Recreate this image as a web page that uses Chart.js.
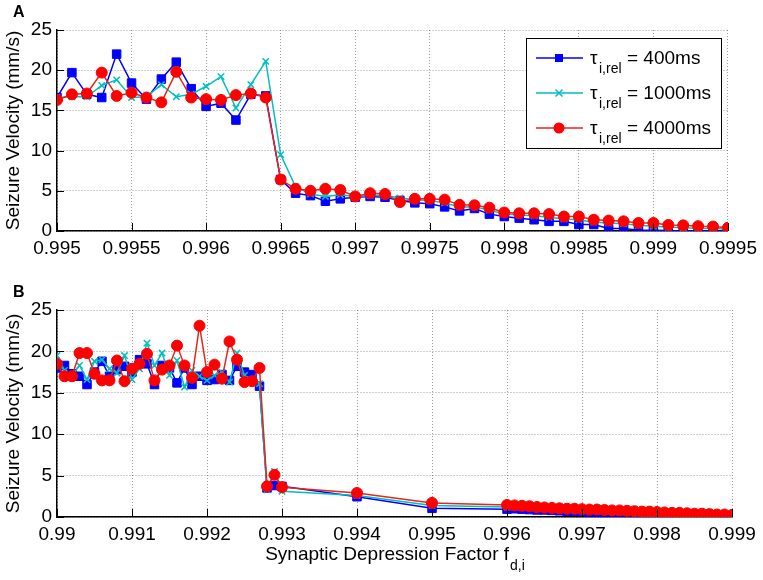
<!DOCTYPE html>
<html>
<head>
<meta charset="utf-8">
<script src="https://cdn.jsdelivr.net/npm/chart.js@4.4.0/dist/chart.umd.min.js"></script>
<style>
  html, body { margin: 0; padding: 0; background: #fff; }
  #wrap { position: relative; width: 763px; height: 580px; }
  canvas { position: absolute; left: 0; }
  #chartA { top: 0; }
  #chartB { top: 280px; }
</style>
</head>
<body>
<div id="wrap">
  <canvas id="chartA" width="763" height="280"></canvas>
  <canvas id="chartB" width="763" height="300"></canvas>
</div>
<script>
// series labels (tau_i,rel)
const seriesLabels = ['400ms', '1000ms', '4000ms'];
const yTicks = [0, 5, 10, 15, 20, 25];

// panel A
const xTicksA = [0.995, 0.9955, 0.996, 0.9965, 0.997, 0.9975, 0.998, 0.9985, 0.999, 0.9995];
const xA = [0.995, 0.9951, 0.9952, 0.9953, 0.9954, 0.9955, 0.9956, 0.9957, 0.9958, 0.9959,
            0.996, 0.9961, 0.9962, 0.9963, 0.9964, 0.9965, 0.9966, 0.9967, 0.9968, 0.9969,
            0.997, 0.9971, 0.9972, 0.9973, 0.9974, 0.9975, 0.9976, 0.9977, 0.9978, 0.9979,
            0.998, 0.9981, 0.9982, 0.9983, 0.9984, 0.9985, 0.9986, 0.9987, 0.9988, 0.9989,
            0.999, 0.9991, 0.9992, 0.9993, 0.9994, 0.9995];
const blueA = [16.6, 19.7, 17.0, 16.6, 22.0, 18.4, 16.4, 18.9, 21.0, 17.7,
               15.5, 15.9, 13.8, 17.0, 16.8, 6.4, 4.7, 4.4, 3.7, 4.0,
               4.2, 4.3, 4.2, 3.8, 3.5, 3.4, 3.0, 2.5, 2.8, 2.1,
               1.8, 1.6, 1.4, 1.2, 1.2, 0.8, 0.8, 0.3, 0.3, 0.1,
               0.1, 0.05, 0.0, 0.0, 0.0, 0.0];
const cyanA = [16.6, 16.7, 16.7, 18.1, 18.8, 16.6, 16.7, 18.2, 16.7, 17.0,
               18.0, 19.2, 15.3, 18.2, 21.1, 9.5, 5.5, 4.6, 4.3, 4.5,
               4.3, 4.4, 4.4, 4.1, 3.9, 3.8, 3.5, 3.0, 3.0, 2.6,
               2.1, 2.0, 1.9, 1.7, 1.5, 1.4, 1.1, 1.0, 0.9, 0.7,
               0.6, 0.5, 0.4, 0.35, 0.3, 0.25];
const redA = [16.3, 17.0, 17.1, 19.7, 16.8, 17.2, 16.6, 16.0, 19.8, 16.6,
              16.4, 16.3, 16.9, 17.1, 16.6, 6.4, 5.25, 5.0, 5.25, 5.1,
              4.3, 4.7, 4.6, 3.6, 4.0, 4.0, 3.9, 3.25, 3.2, 2.9,
              2.3, 2.2, 2.2, 2.1, 1.8, 1.8, 1.4, 1.3, 1.2, 1.0,
              1.0, 0.75, 0.7, 0.6, 0.55, 0.4];

// panel B
const xTicksB = [0.99, 0.991, 0.992, 0.993, 0.994, 0.995, 0.996, 0.997, 0.998, 0.999];
const xB = [0.99, 0.9901, 0.9902, 0.9903, 0.9904, 0.9905, 0.9906, 0.9907, 0.9908, 0.9909,
            0.991, 0.9911, 0.9912, 0.9913, 0.9914, 0.9915, 0.9916, 0.9917, 0.9918, 0.9919,
            0.992, 0.9921, 0.9922, 0.9923, 0.9924, 0.9925, 0.9926, 0.9927, 0.9928, 0.9929,
            0.993, 0.994, 0.995, 0.996,
            0.9961, 0.9962, 0.9963, 0.9964, 0.9965, 0.9966, 0.9967, 0.9968, 0.9969, 0.997,
            0.9971, 0.9972, 0.9973, 0.9974, 0.9975, 0.9976, 0.9977, 0.9978, 0.9979, 0.998,
            0.9981, 0.9982, 0.9983, 0.9984, 0.9985, 0.9986, 0.9987, 0.9988, 0.9989, 0.999];
const blueB = [18.0, 18.3, 17.3, 17.0, 16.0, 17.5, 18.8, 17.0, 17.8, 18.2,
               17.5, 19.0, 18.5, 16.0, 18.3, 18.0, 16.2, 18.0, 16.0, 17.0,
               16.5, 16.6, 17.2, 16.5, 18.2, 17.5, 17.2, 15.8, 3.5, 3.8,
               3.7, 2.45, 1.05, 0.95,
               1.0, 0.95, 0.9, 0.85, 0.85, 0.8, 0.75, 0.7, 0.7, 0.65,
               0.6, 0.55, 0.5, 0.5, 0.45, 0.4, 0.35, 0.3, 0.3, 0.25,
               0.2, 0.2, 0.15, 0.1, 0.1, 0.05, 0.05, 0.0, 0.0, 0.0];
const cyanB = [19.5, 17.7, 17.1, 18.3, 16.6, 18.8, 19.0, 17.9, 17.4, 19.5,
               16.6, 17.9, 21.0, 18.3, 19.8, 17.1, 18.9, 15.7, 17.7, 17.0,
               16.5, 17.1, 17.5, 16.3, 19.8, 17.1, 16.6, 16.1, 3.3, 5.5,
               3.1, 2.6, 1.4, 1.2,
               1.2, 1.15, 1.1, 1.05, 1.0, 0.95, 0.9, 0.9, 0.85, 0.8,
               0.75, 0.7, 0.65, 0.65, 0.6, 0.55, 0.5, 0.45, 0.45, 0.4,
               0.35, 0.35, 0.3, 0.25, 0.25, 0.2, 0.15, 0.15, 0.1, 0.1];
const redB = [18.5, 17.0, 17.0, 19.8, 19.8, 17.3, 16.5, 16.5, 18.9, 16.4,
              17.9, 18.5, 19.7, 16.5, 17.8, 18.3, 20.7, 18.3, 16.8, 23.1,
              17.5, 18.4, 16.7, 21.2, 19.0, 16.3, 16.4, 18.0, 3.7, 5.1,
              3.6, 2.9, 1.7, 1.45,
              1.4, 1.35, 1.3, 1.2, 1.15, 1.1, 1.05, 1.0, 1.0, 0.95,
              0.9, 0.9, 0.85, 0.8, 0.8, 0.75, 0.7, 0.65, 0.65, 0.6,
              0.55, 0.5, 0.5, 0.45, 0.4, 0.4, 0.35, 0.3, 0.3, 0.25];

const FONT = '"Liberation Sans", Arial, sans-serif';
const BLUE = '#0000ff';
const CYAN = 'rgb(0,191,191)';
const RED = '#ff0000';
const RED_LINE = '#e6261a';
const GRID = 'rgba(0,0,0,0.38)';

function toPoints(xs, ys) {
    return xs.map((x, i) => ({ x: x, y: ys[i] }));
}

function makeDatasets(xs, b, c, r) {
    return [
        {
            label: seriesLabels[0], data: toPoints(xs, b), order: 2,
            borderColor: BLUE, borderWidth: 1.5, pointStyle: 'rect', pointRadius: 6,
            pointBackgroundColor: BLUE, pointBorderColor: BLUE, pointBorderWidth: 1
        },
        {
            label: seriesLabels[1], data: toPoints(xs, c), order: 1,
            borderColor: CYAN, borderWidth: 1.5, pointStyle: 'crossRot', pointRadius: 4.5,
            pointBackgroundColor: CYAN, pointBorderColor: CYAN, pointBorderWidth: 1.5
        },
        {
            label: seriesLabels[2], data: toPoints(xs, r), order: 0,
            borderColor: RED_LINE, borderWidth: 1.5, pointStyle: 'circle', pointRadius: 5.5,
            pointBackgroundColor: RED, pointBorderColor: RED, pointBorderWidth: 1
        }
    ];
}

// inward tick marks + panel letter
const axesExtras = {
    id: 'axesExtras',
    afterDraw(chart, args, opts) {
        const ctx = chart.ctx;
        const a = chart.chartArea;
        const xs = chart.scales.x, ys = chart.scales.y;
        ctx.save();
        ctx.strokeStyle = '#000';
        ctx.lineWidth = 1;
        ctx.beginPath();
        xs.ticks.forEach(t => {
            const px = Math.round(xs.getPixelForValue(t.value)) + 0.5;
            ctx.moveTo(px, a.bottom);
            ctx.lineTo(px, a.bottom - 8);
        });
        ys.ticks.forEach(t => {
            const py = Math.round(ys.getPixelForValue(t.value)) + 0.5;
            ctx.moveTo(a.left, py);
            ctx.lineTo(a.left + 7, py);
        });
        ctx.stroke();
        ctx.fillStyle = '#000';
        ctx.font = 'bold 16px ' + FONT;
        ctx.textBaseline = 'alphabetic';
        ctx.fillText(opts.letter, 13, 17);
        ctx.restore();
    }
};

// legend with subscripts
const tauLegend = {
    id: 'tauLegend',
    afterDraw(chart, args, opts) {
        if (!opts.show) return;
        const ctx = chart.ctx;
        ctx.save();
        ctx.fillStyle = '#fff';
        ctx.fillRect(526, 38, 195, 110);
        ctx.strokeStyle = '#000';
        ctx.lineWidth = 1;
        ctx.strokeRect(526.5, 38.5, 195, 110);
        chart.data.datasets.forEach((ds, i) => {
            const y = 58 + i * 35;
            ctx.strokeStyle = ds.borderColor;
            ctx.lineWidth = 1.5;
            ctx.beginPath();
            ctx.moveTo(536, y);
            ctx.lineTo(583, y);
            ctx.stroke();
            const mx = 559;
            ctx.fillStyle = ds.pointBackgroundColor;
            ctx.strokeStyle = ds.pointBorderColor;
            if (ds.pointStyle === 'rect') {
                ctx.fillRect(mx - 4, y - 4, 8, 8);
            } else if (ds.pointStyle === 'circle') {
                ctx.beginPath();
                ctx.arc(mx, y, 5.5, 0, Math.PI * 2);
                ctx.fill();
            } else {
                ctx.beginPath();
                ctx.moveTo(mx - 3.5, y - 3.5); ctx.lineTo(mx + 3.5, y + 3.5);
                ctx.moveTo(mx - 3.5, y + 3.5); ctx.lineTo(mx + 3.5, y - 3.5);
                ctx.stroke();
            }
            ctx.fillStyle = '#000';
            ctx.font = '19px ' + FONT;
            ctx.fillText('\u03C4', 590, y + 6);
            ctx.font = '14px ' + FONT;
            ctx.fillText('i,rel', 599, y + 15);
            ctx.font = '19px ' + FONT;
            ctx.fillText('= ' + ds.label, 627, y + 6);
        });
        ctx.restore();
    }
};

// x title with subscript
const xTitle = {
    id: 'xTitle',
    afterDraw(chart, args, opts) {
        if (!opts.show) return;
        const ctx = chart.ctx;
        const a = chart.chartArea;
        ctx.save();
        ctx.fillStyle = '#000';
        ctx.font = '19px ' + FONT;
        const main = 'Synaptic Depression Factor f';
        const wMain = ctx.measureText(main).width;
        ctx.font = '14px ' + FONT;
        const wSub = ctx.measureText('d,i').width;
        const x0 = (a.left + a.right) / 2 - (wMain + wSub) / 2;
        ctx.font = '19px ' + FONT;
        ctx.fillText(main, x0, 280);
        ctx.font = '14px ' + FONT;
        ctx.fillText('d,i', x0 + wMain + 1, 290);
        ctx.restore();
    }
};

function makeOptions(xTicks, letter, showLegend, showXTitle, xAxisHeight) {
    return {
        responsive: false,
        animation: false,
        events: [],
        layout: { padding: { left: 0, right: 763 - 733, top: 30, bottom: 0 } },
        scales: {
            x: {
                type: 'linear',
                min: xTicks[0],
                max: xTicks[xTicks.length - 1],
                afterBuildTicks: axis => { axis.ticks = xTicks.map(v => ({ value: v })); },
                afterFit: axis => { axis.height = xAxisHeight; },
                grid: { color: GRID, lineWidth: 1, drawTicks: false },
                border: { display: true, color: '#000', width: 1.5, dash: [1, 2] },
                ticks: {
                    color: '#000', padding: 6, maxRotation: 0, autoSkip: false,
                    font: { size: 19, family: FONT },
                    callback: v => String(parseFloat(Number(v).toFixed(4)))
                }
            },
            y: {
                min: 0,
                max: 25,
                afterBuildTicks: axis => { axis.ticks = yTicks.map(v => ({ value: v })); },
                afterFit: axis => { axis.width = 57; },
                grid: { color: GRID, lineWidth: 1, drawTicks: false },
                border: { display: true, color: '#000', width: 1.5, dash: [1, 2] },
                ticks: {
                    color: '#000', padding: 5,
                    font: { size: 19, family: FONT },
                    callback: v => String(v)
                },
                title: {
                    display: true,
                    text: 'Seizure Velocity (mm/s)',
                    color: '#000',
                    font: { size: 19, family: FONT },
                    padding: { top: 2, bottom: 0 }
                }
            }
        },
        plugins: {
            legend: { display: false },
            tooltip: { enabled: false },
            axesExtras: { letter: letter },
            tauLegend: { show: showLegend },
            xTitle: { show: showXTitle }
        }
    };
}

document.addEventListener('DOMContentLoaded', () => {
    new Chart(document.getElementById('chartA'), {
        type: 'line',
        data: { datasets: makeDatasets(xA, blueA, cyanA, redA) },
        options: makeOptions(xTicksA, 'A', true, false, 280 - 231),
        plugins: [axesExtras, tauLegend, xTitle]
    });

    const optsB = makeOptions(xTicksB, 'B', false, true, 300 - 237);
    optsB.layout.padding.right = 763 - 732;
    new Chart(document.getElementById('chartB'), {
        type: 'line',
        data: { datasets: makeDatasets(xB, blueB, cyanB, redB) },
        options: optsB,
        plugins: [axesExtras, tauLegend, xTitle]
    });
});
</script>
</body>
</html>
